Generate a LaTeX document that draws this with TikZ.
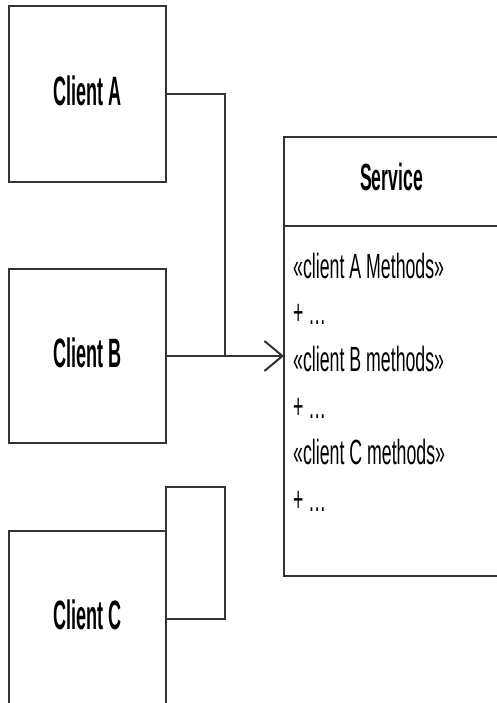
\documentclass[tikz,border=0pt]{standalone}
\usepackage{fontspec}
\setmainfont{Liberation Sans}
\usetikzlibrary{arrows.meta}

\tikzset{
  box/.style={draw=black!80, line width=1pt, inner sep=0pt, outer sep=0pt, minimum width=78.5pt},
  wire/.style={draw=black!80, line width=1pt},
  clientlabel/.style={font=\fontsize{20.5}{24}\selectfont\bfseries, xscale=0.44, inner sep=0pt},
  headlabel/.style={font=\fontsize{18.9}{22}\selectfont\bfseries, xscale=0.467, inner sep=0pt},
  methodline/.style={font=\fontsize{17.5}{21}\selectfont, xscale=0.507, inner sep=0pt, anchor=base west},
}

\begin{document}
\begin{tikzpicture}[x=0.5pt, y=-0.5pt]
\useasboundingbox (0,0) rectangle (497,703);

% Client boxes on the left
\node[box, minimum height=88pt] (clientA) at (87.5,94) {};
\node[box, minimum height=87pt] (clientB) at (87.5,356) {};
\node[box, minimum height=87.5pt] (clientC) at (87.5,618.5) {};
\node[clientlabel, yshift=1.75pt] (labelA) at (clientA.center) {Client A};
\node[clientlabel, yshift=1.75pt] (labelB) at (clientB.center) {Client B};
\node[clientlabel, yshift=1.75pt] (labelC) at (clientC.center) {Client C};

% Service class: header and body
\node[box, minimum width=107.5pt, minimum height=44.5pt, anchor=north west] (svchead) at (284,137) {};
\node[box, minimum width=107.5pt, minimum height=175pt, anchor=north west] (svcbody) at (svchead.south west) {};
\node[headlabel, yshift=2.5pt] (svcname) at (svchead.center) {Service};

% Method groups
\foreach \txt [count=\i from 0] in {«client A Methods», + \ldots, «client B methods», + \ldots, «client C methods», + \ldots}
  \node[methodline] (line\i) at (293,278+46.7*\i) {\txt};

% Connectors
\coordinate (joint) at (225,356);
\coordinate (cstub) at (225,487);
\draw[wire] (clientA.east) -| (joint);
\draw[wire, -{Straight Barb[length=9pt,width=15pt]}] (clientB.east) -- (clientB.east -| svcbody.west);
\draw[wire] (clientC.east) -| (cstub) -| (clientC.east);

\end{tikzpicture}
\end{document}
